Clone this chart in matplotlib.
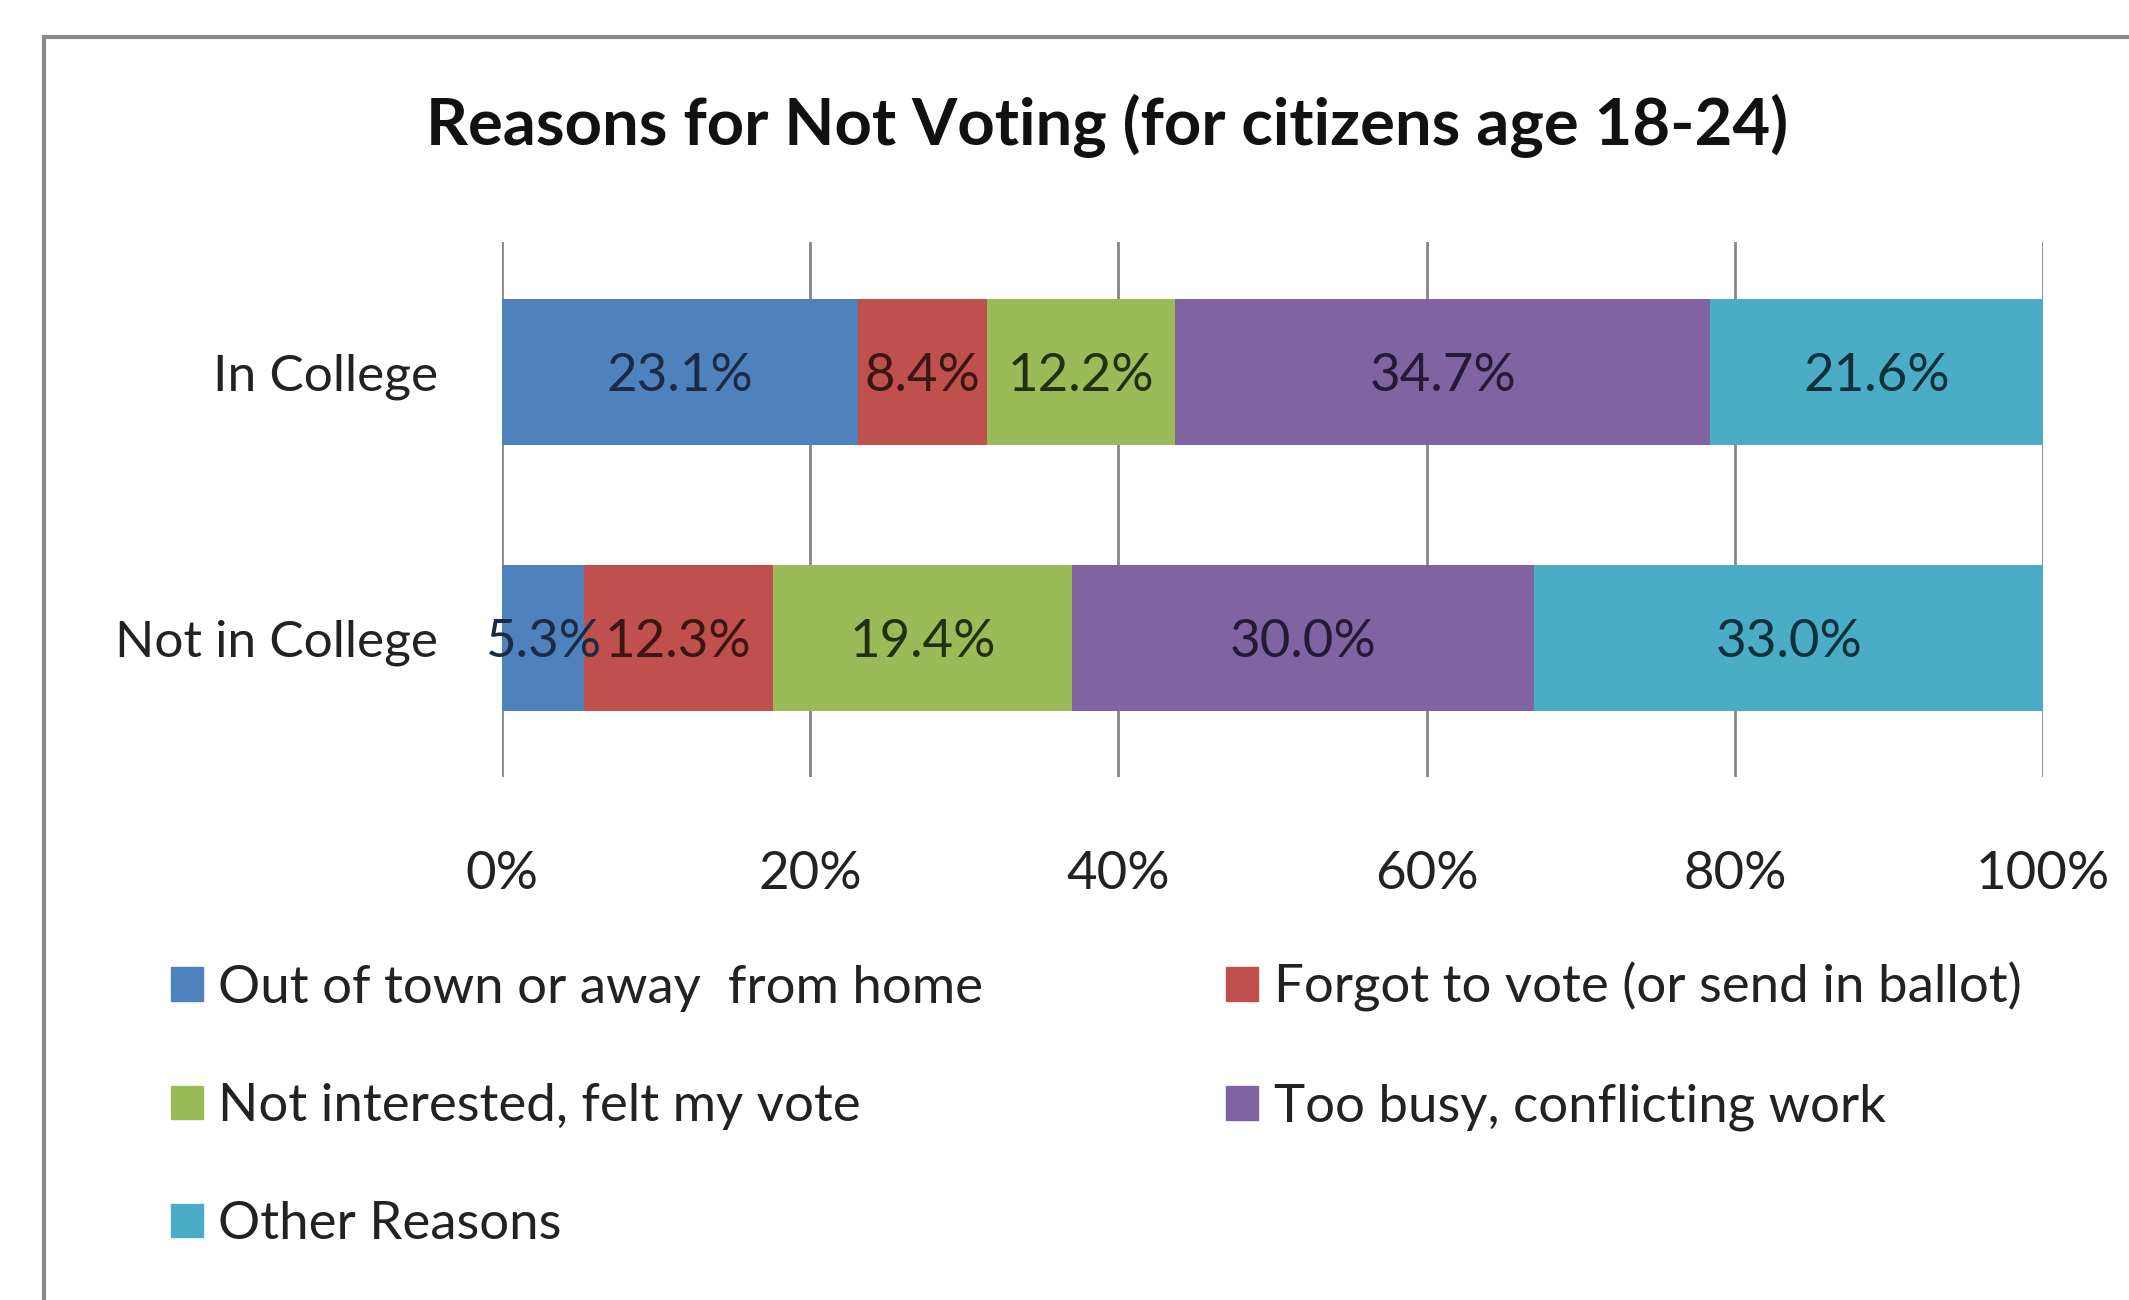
import numpy as np
import matplotlib.pyplot as plt
from matplotlib.patches import Rectangle, Patch

groups = ["Not in College", "In College"]
reasons = ["Out of town or away  from home", "Forgot to vote (or send in ballot)",
           "Not interested, felt my vote", "Too busy, conflicting work", "Other Reasons"]
# values per reason: [Not in College, In College]
out_of_town = [5.3, 23.1]
forgot = [12.3, 8.4]
not_interested = [19.4, 12.2]
too_busy = [30.0, 34.7]
other = [33.0, 21.6]
series = [out_of_town, forgot, not_interested, too_busy, other]
ticks = [0, 20, 40, 60, 80, 100]

colors = ["#4F81BD", "#C0504D", "#9BBB59", "#8064A2", "#4BACC6"]
label_colors = ["#1c2b45", "#3a1614", "#23300f", "#241a38", "#10303c"]

plt.rcParams['font.family'] = ['Lato', 'DejaVu Sans']

fig = plt.figure(figsize=(21.29, 13.0), dpi=100)
fig.patches.append(Rectangle((44 / 2129, -0.1), 1.2, 1 - 37 / 1300 + 0.1,
                             transform=fig.transFigure, fill=False,
                             edgecolor="#8a8a8a", linewidth=3))

ax = fig.add_axes([502 / 2129, 1 - 777 / 1300, (2043 - 502) / 2129, (777 - 242) / 1300])
y = np.arange(len(groups))
left = np.zeros(len(groups))
for vals, c, lc in zip(series, colors, label_colors):
    bars = ax.barh(y, vals, left=left, height=0.55, color=c, zorder=2)
    texts = ax.bar_label(bars, labels=[f"{v:.1f}%" for v in vals], label_type="center",
                         fontsize=38, color=lc)
    for t in texts:
        t.set_va("center_baseline")
    left += np.array(vals)

ax.set_xlim(0, 100)
ax.set_ylim(-0.523, 1.489)
ax.set_xticks(ticks)
ax.set_xticklabels([f"{t}%" for t in ticks], fontsize=38, color="#222222")
ax.set_yticks(y)
ax.set_yticklabels(groups, fontsize=37, color="#222222")
ax.tick_params(axis="x", length=0, pad=53)
ax.tick_params(axis="y", length=0, pad=46)
ax.grid(axis="x", color="#868686", linewidth=2, zorder=1)
for s in ax.spines.values():
    s.set_visible(False)

fig.text(1107 / 2129, 1 - 126 / 1300, "Reasons for Not Voting (for citizens age 18-24)",
         ha="center", va="center", fontsize=47, fontweight="bold", color="#111111")

handles = [Patch(color=c) for c in colors]
order = [0, 2, 4, 1, 3]
fig.legend([handles[i] for i in order], [reasons[i] for i in order], ncol=2,
           loc="upper left", bbox_to_anchor=(171 / 2129, 1 - 962 / 1300),
           borderaxespad=0, borderpad=0,
           frameon=False, fontsize=38, handlelength=0.6, handleheight=0.6,
           handletextpad=0.3, columnspacing=4.6, labelspacing=1.35, labelcolor="#222222")

fig.savefig("out.png", dpi=100, facecolor="white")
